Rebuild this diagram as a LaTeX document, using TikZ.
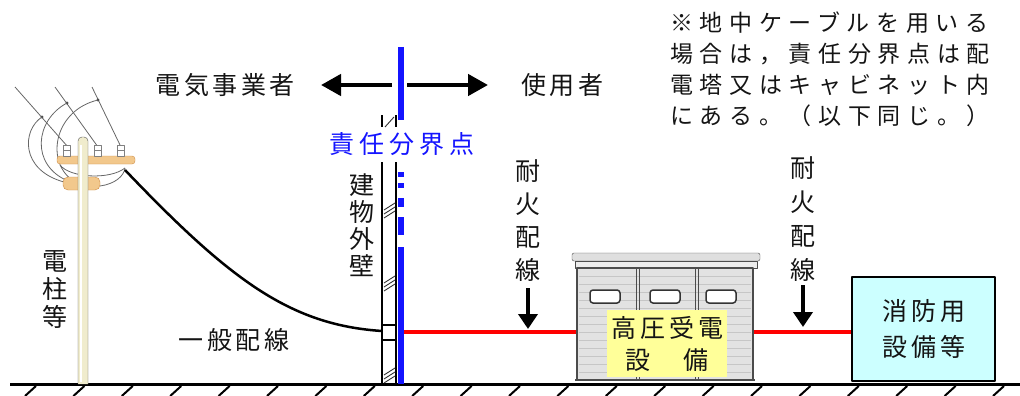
\documentclass[tikz,border=0pt]{standalone}
\usepackage{fontspec}
\usetikzlibrary{arrows.meta}
\newfontfamily\jp{Noto Sans CJK JP}
\definecolor{poleyellow}{RGB}{240,236,205}
\definecolor{armtan}{RGB}{242,200,140}
\definecolor{armedge}{RGB}{205,140,70}
\definecolor{plateyellow}{RGB}{255,255,153}
\definecolor{firecyan}{RGB}{204,255,255}
\definecolor{bndblue}{RGB}{20,20,255}
\definecolor{fwred}{RGB}{255,0,0}
\definecolor{boxgray}{RGB}{226,226,226}

\begin{document}
\begin{tikzpicture}[x=1pt,y=-1pt,line join=round,
  every node/.style={inner sep=0pt,text=black!92},
  wide/.style={font=\jp\fontsize{25}{30}\selectfont\addfontfeature{LetterSpace=#1}},
  tall/.style={font=\jp\fontsize{25}{#1}\selectfont,align=center},
  wire/.style={gray!80!black,line width=0.8pt},
  bigarrow/.style={line width=4.5pt,-{Triangle[length=20pt,width=21pt]}},
  downarrow/.style={line width=4pt,-{Triangle[length=15pt,width=19pt]}},
  firewire/.style={fwred,line width=4pt},
  wallline/.style={line width=2pt},
  hatch/.style={line width=0.9pt,black!80},
  bluebar/.style={bndblue,line width=5.5pt}]
\useasboundingbox (0,0) rectangle (1020,396);

% ground
\draw[line width=3pt] (10,384) -- (1020,384);
\foreach \k in {0,...,20}
  \draw[line width=2pt] ({36+48.4*\k},386) -- ({25+48.4*\k},396);

% overhead lines at the pole
\draw[wire] (15,87) -- (68,147);
\draw[wire] (55,87) -- (98,147);
\draw[wire] (92,87) -- (121,147);
\foreach \p in {(42,117),(67,103),(98,100)}
  \fill[gray!60!black] \p circle[radius=1.6pt];
\draw[wire] (42,117) .. controls (22,130) and (20,170) .. (64,182);
\draw[wire] (67,103) .. controls (35,120) and (30,165) .. (68,181);
\draw[wire] (98,100) .. controls (55,110) and (45,160) .. (72,180);
\draw[wire] (60,165) .. controls (70,178) and (110,180) .. (125,168);
\draw[wire] (100,186) .. controls (115,184) and (124,176) .. (125,168);

% cross arms and insulators
\draw[armedge,fill=armtan,rounded corners=3pt] (57,156) rectangle (135,164);
\draw[armedge,fill=armtan,rounded corners=5pt] (63,177) rectangle (100,190);
\foreach \x in {67,98,121} {
  \draw[gray,fill=white] (\x-3.5,145) rectangle (\x+3.5,156);
  \draw[gray] (\x-3.5,150) -- (\x+3.5,150);
}

% pole
\draw[gray!70!black,fill=poleyellow,rounded corners=4pt] (78,384) -- (78,137) -- (88,137) -- (88,384);
\draw[white,line width=1.5pt] (81,145) -- (81,382);
\node[tall=28] (pole) at (55,290) {電\\柱\\等};

% service drop to the wall
\coordinate (drop) at (125,170);
\coordinate (entry) at (382,331);
\draw[line width=2.5pt] (drop) .. controls (230,280) and (290,325) .. (entry);
\node[wide=14] (drop label) at (234,340) {一般配線};

% building wall
\draw[wallline] (382,115) -- (382,127) (396,115) -- (396,127);
\draw[hatch] (385,127) -- (394,117);
\draw[wallline] (382,162) -- (382,384) (396,162) -- (396,384);
\draw[wallline] (382,325) -- (396,325) (382,340) -- (396,340);
\foreach \y in {203,276,368}
  \foreach \k in {0,4,8}
    \draw[hatch] (384,\y+\k+7) -- (395,\y+\k);
\node[tall=27] (wall) at (362,225) {建\\物\\外\\壁};

% boundary point
\draw[bluebar] (401,47) -- (401,120);
\foreach \a/\b in {172/177,183/188,198/207,217/235,247/384}
  \draw[bluebar] (401,\a) -- (401,\b);
\node[wide=20,text=bndblue] (bnd) at (402,144) {責任分界点};

% responsibility arrows
\coordinate (splitL) at (392,85);
\coordinate (splitR) at (407,85);
\coordinate (tipL) at (321,85);
\coordinate (tipR) at (488,85);
\draw[bigarrow] (splitL) -- (tipL);
\draw[bigarrow] (splitR) -- (tipR);
\node[wide=14] (supplier) at (225,85) {電気事業者};
\node[wide=14] (user) at (562,85) {使用者};

% cubicle
\draw[gray!60!black,fill=gray!25,rounded corners=2pt] (572,253) rectangle (760,261);
\draw[gray!60!black,fill=gray!15] (575,261) rectangle (757,268);
\node[draw=gray!60!black,fill=boxgray,line width=1.5pt,minimum width=176,minimum height=112] (sub) at (665,324) {};
\foreach \y in {276,284,...,372}
  \draw[gray!45] (579,\y) -- (751,\y);
\foreach \x in {638,697}
  \draw[gray!60!black,line width=1pt] (\x-1.5,268) -- (\x-1.5,380) (\x+1.5,268) -- (\x+1.5,380);
\foreach \x in {605,665,721}
  \draw[gray!40!black,fill=white,line width=1.5pt,rounded corners=3pt] (\x-15,290) rectangle (\x+15,303);
\draw[gray!60!black,line width=2pt] (575,380) -- (755,380);
\node[fill=plateyellow,minimum width=120,minimum height=67,align=center,
  font=\jp\fontsize{25}{32}\selectfont\addfontfeature{LetterSpace=16}] (plate) at (667,343.5) {高圧受電\\設　備};

% fire protection equipment
\node[draw=black,fill=firecyan,line width=1.5pt,minimum width=143,minimum height=104,align=center,
  font=\jp\fontsize{25}{36}\selectfont\addfontfeature{LetterSpace=16}] (fire) at (923.5,329) {消防用\\設備等};

% fire resistant wiring
\coordinate (feed) at (404,332);
\draw[firewire] (feed) -- (sub.west |- feed);
\draw[firewire] (sub.east |- feed) -- (fire.west |- feed);
\coordinate (fwA) at (528,288);
\coordinate (fwAend) at (528,329);
\coordinate (fwB) at (803,285);
\coordinate (fwBend) at (803,327);
\draw[downarrow] (fwA) -- (fwAend);
\draw[downarrow] (fwB) -- (fwBend);
\node[tall=33] (fwA label) at (528,221) {耐\\火\\配\\線};
\node[tall=34] (fwB label) at (803,219) {耐\\火\\配\\線};

% note
\node[anchor=north west,align=left,font=\jp\fontsize{23}{31}\selectfont\addfontfeature{LetterSpace=29}] (note) at (670,12)
  {※地中ケーブルを用いる\\場合は，責任分界点は配\\電塔又はキャビネット内\\にある。（以下同じ。）};
\end{tikzpicture}
\end{document}
